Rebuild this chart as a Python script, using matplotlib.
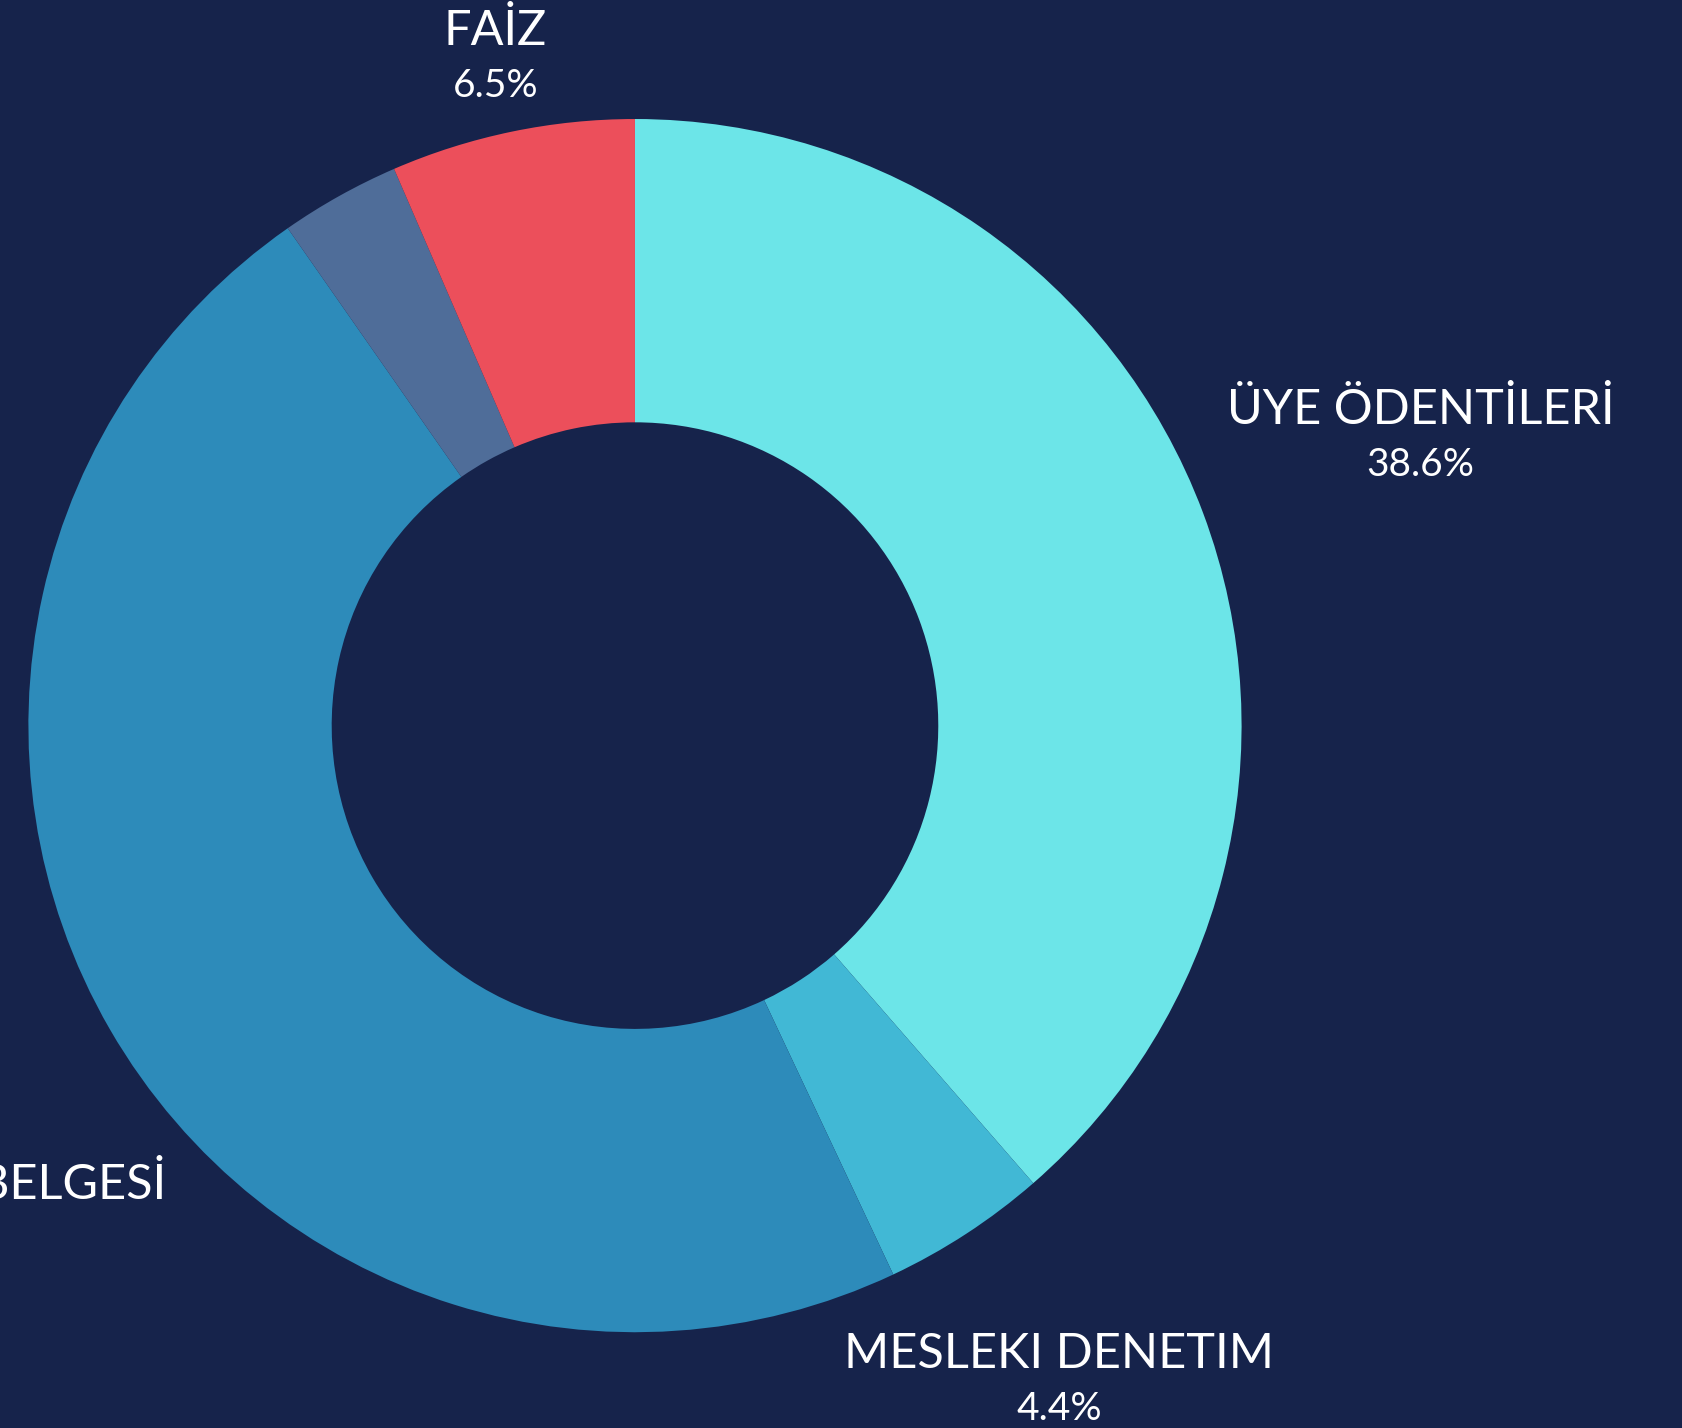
import numpy as np
import matplotlib.pyplot as plt

# Gelir dağılımı (saat yönünde, tepeden başlayarak)
labels = ["ÜYE ÖDENTİLERİ", "MESLEKI DENETIM", "BÜRO TESCİL VE YETKİ BELGESİ", "DİĞER", "FAİZ"]
shares = [38.6, 4.4, 47.3, 3.2, 6.5]
colors = ["#6CE5E8", "#41B8D5", "#2D8BBA", "#4F6D99", "#EC4F5B"]
show_label = [True, True, True, False, True]
label_dist = [1.383, 1.279, 1.582, 1.13, 1.133]

bg = "#16234B"
plt.rcParams['font.family'] = ['Lato', 'DejaVu Sans']

fig = plt.figure(figsize=(16.83, 14.28), dpi=100, facecolor=bg)
ax = fig.add_axes([0, 0, 1, 1])
ax.set_facecolor(bg)

ax.pie(shares, colors=colors, startangle=90, counterclock=False, radius=1,
       wedgeprops=dict(width=0.5, linewidth=0))

# label positions from slice mid-angles
cum = np.cumsum([0] + shares[:-1])
for i, lab in enumerate(labels):
    if not show_label[i]:
        continue
    mid = (cum[i] + shares[i] / 2) * 3.6
    ang = np.deg2rad(90 - mid)
    x = label_dist[i] * np.cos(ang)
    y = label_dist[i] * np.sin(ang)
    ax.annotate(lab, (x, y), xytext=(0, 15.5), textcoords='offset points',
                ha='center', va='center', color='white', fontsize=35,
                annotation_clip=False)
    ax.annotate(f"{shares[i]}%", (x, y), xytext=(0, -24), textcoords='offset points',
                ha='center', va='center', color='white', fontsize=28,
                annotation_clip=False)

ax.set_xlim(-1.0468, 1.7277)
ax.set_ylim(-1.1579, 1.1962)
ax.set_aspect('auto')
ax.axis('off')

plt.savefig("out.png", dpi=100, facecolor=bg)
